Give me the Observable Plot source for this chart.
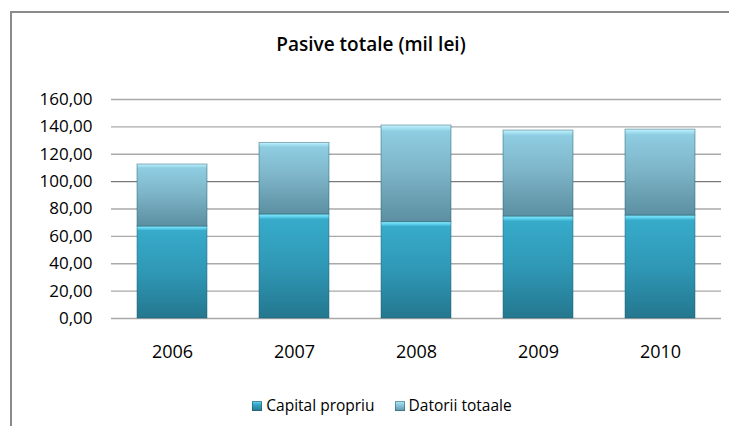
<!DOCTYPE html>
<html>
<head>
<meta charset="utf-8">
<script src="https://cdn.jsdelivr.net/npm/d3@7"></script>
<script src="https://cdn.jsdelivr.net/npm/@observablehq/plot@0.6"></script>
<style>
  html, body { margin: 0; padding: 0; background: #fff; }
  #wrap { position: relative; width: 729px; height: 426px; overflow: hidden; background: #fff; font-family: "Open Sans", sans-serif; }
  #frame { position: absolute; left: 10px; top: 11px; width: 900px; height: 900px; border: 2px solid #8a8a8a; box-sizing: border-box; }
  #title { position: absolute; left: 0; width: 742px; top: 31px; text-align: center; font-size: 19px; font-weight: 600; color: #000; }
  #chart { position: absolute; left: 0; top: 0; }
  #legend { position: absolute; left: 0; width: 764px; top: 394px; text-align: center; font-size: 15.5px; color: #000; white-space: nowrap; }
  .item { display: inline-block; margin: 0 10px; }
  .sw { display: inline-block; width: 10px; height: 10px; margin-right: 4px; vertical-align: -0px; }
</style>
</head>
<body>
<div id="wrap">
  <div id="frame"></div>
  <div id="chart"></div>
  <div id="title">Pasive totale (mil lei)</div>
  <div id="legend"></div>
</div>
<script>
const years = ["2006", "2007", "2008", "2009", "2010"];
const seriesNames = ["Capital propriu", "Datorii totaale"];
const capitalPropriu = [67.2, 76.0, 70.4, 74.5, 75.2];
const datoriiTotale = [45.3, 52.3, 70.6, 62.8, 62.8];
const yTicks = [0, 20, 40, 60, 80, 100, 120, 140, 160];

const data = [];
years.forEach((yr, i) => {
  data.push({year: yr, series: seriesNames[0], value: capitalPropriu[i]});
  data.push({year: yr, series: seriesNames[1], value: datoriiTotale[i]});
});

const roFormat = d3.formatLocale({decimal: ",", thousands: ".", grouping: [3], currency: ["", ""]}).format(".2f");

const chart = Plot.plot({
  width: 729,
  height: 426,
  marginLeft: 111,
  marginRight: 8,
  marginTop: 99,
  marginBottom: 108,
  style: {background: "transparent", fontFamily: "Open Sans, sans-serif", color: "#000"},
  x: {domain: years, paddingInner: 0.427, paddingOuter: 0.2135, label: null, tickSize: 0, tickPadding: 27},
  y: {domain: [0, 160], ticks: yTicks, tickFormat: roFormat, label: null, tickSize: 0, tickPadding: 19},
  color: {domain: seriesNames, range: ["url(#gCap)", "url(#gDat)"]},
  marks: [
    Plot.ruleY(yTicks, {stroke: d => d === 100 ? "#7a7a7a" : "#a9a9a9", strokeWidth: 1.3}),
    Plot.barY(data, {x: "year", y: "value", fill: "series", order: seriesNames, stroke: "#1e5f70", strokeWidth: 0.8, strokeOpacity: 0.6}),
    Plot.axisY({ticks: yTicks, tickFormat: roFormat, tickSize: 0, tickPadding: 19, fontSize: 17, label: null}),
    Plot.axisX({tickSize: 0, tickPadding: 27, fontSize: 18, label: null})
  ]
});

const ns = "http://www.w3.org/2000/svg";
const defs = document.createElementNS(ns, "defs");
function grad(id, stops) {
  const g = document.createElementNS(ns, "linearGradient");
  g.setAttribute("id", id);
  g.setAttribute("x1", "0"); g.setAttribute("y1", "0");
  g.setAttribute("x2", "0"); g.setAttribute("y2", "1");
  stops.forEach(([o, c]) => {
    const s = document.createElementNS(ns, "stop");
    s.setAttribute("offset", o);
    s.setAttribute("stop-color", c);
    g.appendChild(s);
  });
  defs.appendChild(g);
}
grad("gCap", [["0", "#8aeafc"], ["0.025", "#5fd3ee"], ["0.05", "#37abca"], ["0.5", "#2f98b6"], ["1", "#24778e"]]);
grad("gDat", [["0", "#cdf4fd"], ["0.03", "#a6e2f3"], ["0.065", "#8ecde2"], ["0.45", "#7fb6c9"], ["1", "#5b8fa1"]]);
chart.insertBefore(defs, chart.firstChild);
chart.querySelectorAll("text").forEach(t => t.setAttribute("fill", "#000"));
document.getElementById("chart").appendChild(chart);

const legend = document.getElementById("legend");
seriesNames.forEach((name, i) => {
  const item = document.createElement("span");
  item.className = "item";
  const sw = document.createElement("span");
  sw.className = "sw";
  sw.style.background = i === 0
    ? "linear-gradient(#6fd9f3, #36a9c9 35%, #24778e)"
    : "linear-gradient(#b8ecf8, #8ecde2 35%, #5f95a7)";
  sw.style.boxShadow = "inset 0 0 0 1px rgba(30,80,100,0.5)";
  item.appendChild(sw);
  item.appendChild(document.createTextNode(name));
  legend.appendChild(item);
});
</script>
</body>
</html>
